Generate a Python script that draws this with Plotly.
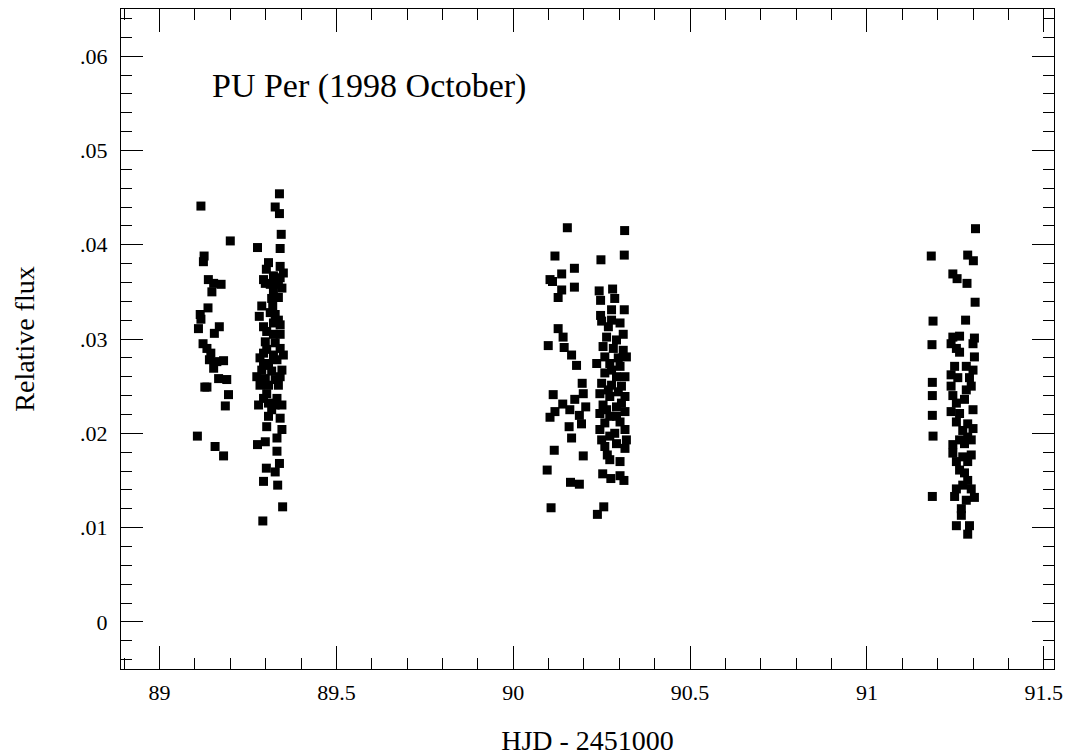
import plotly.graph_objects as go

# ---- data ----
night1_hjd = [89.117, 89.200, 89.126, 89.124, 89.138, 89.153, 89.174, 89.148, 89.137, 89.115,
              89.117, 89.169, 89.110, 89.155, 89.123, 89.134, 89.145, 89.141, 89.181, 89.162,
              89.153, 89.167, 89.190, 89.134, 89.128, 89.195, 89.186, 89.107, 89.157, 89.181,
              89.339, 89.327, 89.339, 89.344, 89.277, 89.341, 89.308, 89.341, 89.302, 89.322,
              89.341, 89.299, 89.313, 89.336, 89.346, 89.322, 89.317, 89.336, 89.289, 89.320,
              89.282, 89.327, 89.336, 89.322, 89.341, 89.303, 89.322, 89.341, 89.299, 89.327,
              89.303, 89.341, 89.294, 89.322, 89.284, 89.332, 89.308, 89.346, 89.289, 89.317,
              89.275, 89.299, 89.327, 89.284, 89.308, 89.336, 89.303, 89.332, 89.280, 89.308,
              89.346, 89.317, 89.308, 89.341, 89.303, 89.346, 89.332, 89.299, 89.277, 89.332,
              89.339, 89.302, 89.327, 89.294, 89.334, 89.348, 89.292,
              89.294, 89.350, 89.313, 89.294, 89.350, 89.294, 89.341, 89.327, 89.294]
night1_flux = [.0441, .0404, .0388, .0382, .0363, .0359, .0358, .0350, .0333, .0326,
               .0321, .0313, .0311, .0306, .0295, .0290, .0285, .0278, .0277, .0276,
               .0269, .0258, .0257, .0249, .0249, .0241, .0229, .0197, .0186, .0176,
               .0454, .0440, .0433, .0411, .0397, .0396, .0381, .0377, .0374, .0367,
               .0365, .0359, .0358, .0358, .0354, .0350, .0343, .0344, .0335, .0335,
               .0324, .0326, .0320, .0317, .0315, .0308, .0305, .0305, .0297, .0296,
               .0289, .0290, .0285, .0283, .0280, .0278, .0274, .0267, .0267, .0266,
               .0260, .0258, .0257, .0251, .0251, .0251, .0242, .0237, .0230, .0232,
               .0230, .0225, .0218, .0216, .0207, .0204, .0195, .0191, .0188, .0181,
               .0168, .0163, .0159, .0149, .0145, .0122, .0107,
               .0363, .0370, .0328, .0313, .0283, .0272, .0260, .0230, .0237]

night2_hjd = [90.153, 90.315, 90.118, 90.314, 90.248, 90.173, 90.137, 90.104, 90.111, 90.173,
              90.137, 90.127, 90.243, 90.281, 90.247, 90.287, 90.314, 90.278, 90.247, 90.250,
              90.278, 90.127, 90.141, 90.099, 90.144, 90.165, 90.179, 90.311, 90.236, 90.195,
              90.198, 90.113, 90.174, 90.140, 90.205, 90.118, 90.104, 90.160, 90.187, 90.193,
              90.158, 90.165, 90.116, 90.198, 90.266, 90.273, 90.302, 90.253, 90.276, 90.302,
              90.313, 90.096, 90.162, 90.187, 90.107, 90.256, 90.238,
              90.264, 90.292, 90.254, 90.283, 90.311, 90.259, 90.297, 90.320, 90.273, 90.302,
              90.259, 90.292, 90.316, 90.250, 90.278, 90.306, 90.245, 90.273, 90.316, 90.254,
              90.292, 90.245, 90.273, 90.316, 90.259, 90.302, 90.245, 90.287, 90.316, 90.250,
              90.292, 90.320, 90.316,
              90.269, 90.302, 90.278, 90.269, 90.297, 90.264, 90.292, 90.273, 90.259, 90.306]
night2_flux = [.0418, .0415, .0388, .0389, .0384, .0375, .0369, .0363, .0361, .0355,
               .0352, .0344, .0351, .0353, .0341, .0343, .0331, .0331, .0325, .0319,
               .0320, .0311, .0302, .0293, .0291, .0283, .0272, .0305, .0274, .0253,
               .0242, .0241, .0236, .0231, .0228, .0223, .0217, .0225, .0219, .0210,
               .0207, .0195, .0182, .0176, .0177, .0172, .0170, .0157, .0152, .0155,
               .0150, .0161, .0148, .0146, .0121, .0122, .0114,
               .0302, .0299, .0292, .0290, .0288, .0281, .0280, .0281, .0274, .0271,
               .0264, .0260, .0260, .0253, .0251, .0250, .0242, .0239, .0239, .0230,
               .0228, .0221, .0218, .0223, .0211, .0212, .0204, .0200, .0204, .0193,
               .0189, .0193, .0184,
               .0313, .0317, .0267, .0246, .0244, .0225, .0218, .0197, .0186, .0232]

night3_hjd = [91.307, 91.182, 91.285, 91.301, 91.243, 91.255, 91.283, 91.306, 91.187, 91.279,
              91.243, 91.262, 91.304, 91.184, 91.238, 91.262, 91.300, 91.304, 91.248, 91.300,
              91.238, 91.290, 91.185, 91.238, 91.295, 91.185, 91.243, 91.276, 91.238, 91.262,
              91.300, 91.185, 91.253, 91.285, 91.271, 91.300, 91.187, 91.243, 91.276, 91.295,
              91.243, 91.271, 91.295, 91.253, 91.285, 91.276, 91.285, 91.253, 91.295, 91.185,
              91.248, 91.304, 91.267, 91.267, 91.253, 91.290, 91.285,
              91.253, 91.281, 91.257, 91.281, 91.253, 91.285, 91.262, 91.262, 91.281, 91.271]
night3_flux = [.0417, .0388, .0389, .0383, .0369, .0364, .0359, .0339, .0319, .0320,
               .0302, .0303, .0301, .0294, .0295, .0286, .0295, .0281, .0271, .0267,
               .0262, .0259, .0254, .0250, .0250, .0240, .0240, .0236, .0223, .0221,
               .0225, .0219, .0212, .0210, .0203, .0205, .0197, .0188, .0189, .0193,
               .0179, .0175, .0177, .0170, .0170, .0158, .0150, .0141, .0141, .0133,
               .0133, .0132, .0120, .0113, .0102, .0102, .0093,
               .0290, .0271, .0259, .0246, .0232, .0196, .0193, .0161, .0129, .0145]

x_tickvals = [89, 89.5, 90, 90.5, 91, 91.5]
x_ticktext = ["89", "89.5", "90", "90.5", "91", "91.5"]
y_tickvals = [0, 0.01, 0.02, 0.03, 0.04, 0.05, 0.06]
y_ticktext = ["0", ".01", ".02", ".03", ".04", ".05", ".06"]

title_text = "PU Per (1998 October)"
x_title = "HJD - 2451000"
y_title = "Relative flux"

FONT = "Liberation Serif, Times New Roman, serif"

hjd = night1_hjd + night2_hjd + night3_hjd
flux = night1_flux + night2_flux + night3_flux

fig = go.Figure()
fig.add_trace(go.Scatter(
    x=hjd, y=flux, mode="markers",
    marker=dict(symbol="square", size=9, color="black", line=dict(width=0)),
    showlegend=False, hoverinfo="skip",
))

axis_common = dict(
    showgrid=False, zeroline=False, automargin=False,
    showline=True, linecolor="black", linewidth=1,
    mirror="ticks", ticks="inside", tickcolor="black", tickwidth=1,
    tickfont=dict(family=FONT, size=22, color="black"),
)

fig.update_xaxes(
    **axis_common,
    range=[88.891, 91.529],
    tickmode="array", tickvals=x_tickvals, ticktext=x_ticktext,
    ticklen=23, ticklabelstandoff=4,
    minor=dict(ticks="inside", ticklen=11, tick0=89, dtick=0.1,
               tickcolor="black", tickwidth=1, showgrid=False),
    title=dict(text=x_title, font=dict(family=FONT, size=28, color="black"), standoff=25),
)
fig.update_yaxes(
    **axis_common,
    range=[-0.005, 0.065],
    tickmode="array", tickvals=y_tickvals, ticktext=y_ticktext,
    ticklen=22, ticklabelstandoff=8,
    minor=dict(ticks="inside", ticklen=11, tick0=0, dtick=0.002,
               tickcolor="black", tickwidth=1, showgrid=False),
    title=dict(text=y_title, font=dict(family=FONT, size=28, color="black"), standoff=37),
)

fig.add_annotation(
    text=title_text, xref="paper", yref="paper",
    x=0.0954, y=0.883, xanchor="left", yanchor="middle",
    showarrow=False, font=dict(family=FONT, size=34, color="black"),
)

fig.update_layout(
    template="none",
    width=1067, height=756,
    margin=dict(l=121, r=13, t=9, b=87),
    paper_bgcolor="white", plot_bgcolor="white",
    font=dict(family=FONT, color="black"),
)

fig.write_html(
    "out.html",
    config={"displayModeBar": False},
    post_script="document.body.style.margin='0';document.body.style.overflow='hidden';",
)
